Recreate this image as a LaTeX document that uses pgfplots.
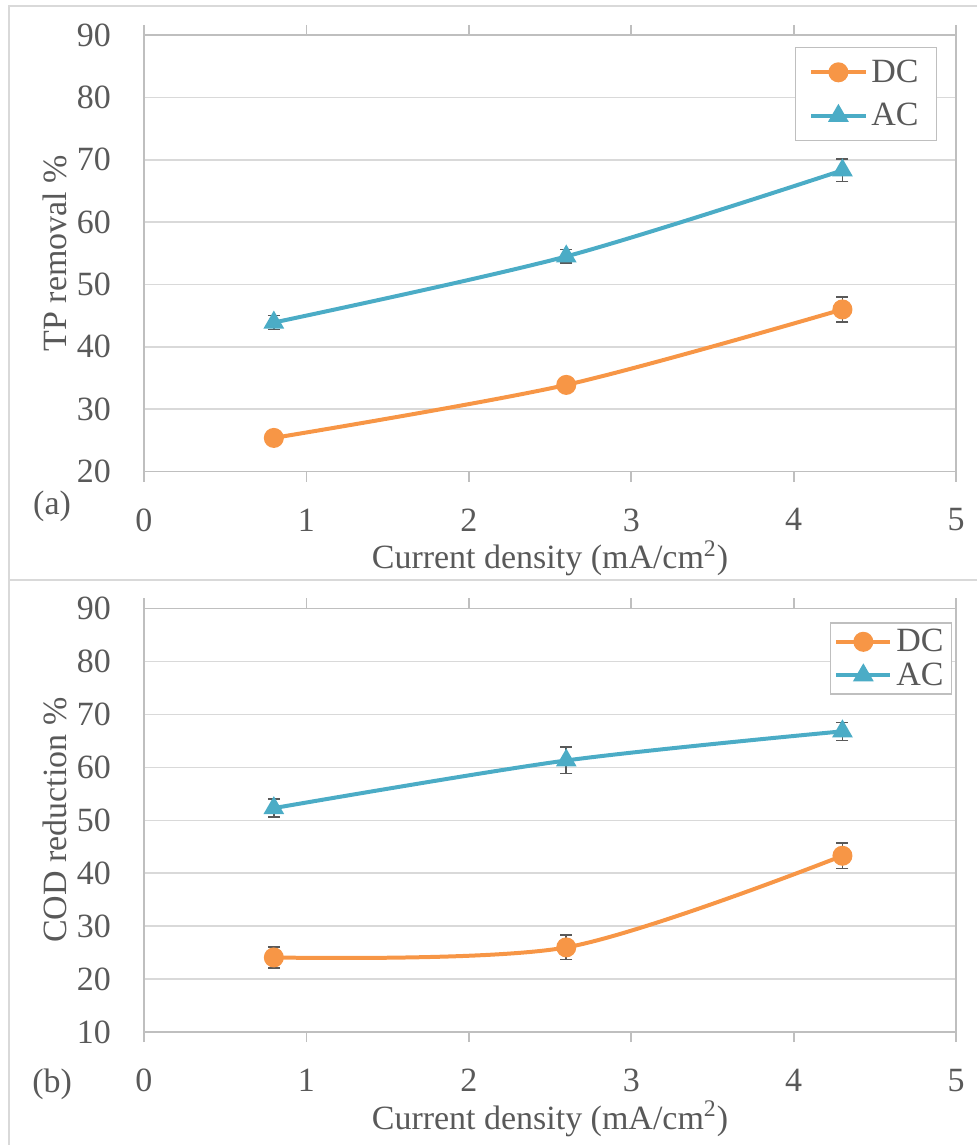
\documentclass[border=0pt]{standalone}
\usepackage{pgfplots}
\pgfplotsset{compat=1.18}
\usepackage{fontspec}
\setmainfont{Liberation Serif}

\definecolor{dcorange}{HTML}{F79646}
\definecolor{acblue}{HTML}{4BACC6}
\definecolor{txtgray}{HTML}{595959}
\definecolor{axgray}{HTML}{BFBFBF}
\definecolor{gridgray}{HTML}{D9D9D9}
\definecolor{errgray}{HTML}{595959}

\pgfplotsset{
  panel/.style={
    scale only axis,
    width=406.5pt,
    xmin=0, xmax=5,
    xtick={0,1,2,3,4,5},
    tick align=outside,
    major tick length=5pt,
    tick style={axgray, line width=0.8pt},
    axis line style={axgray, line width=0.8pt},
    ymajorgrids,
    grid style={gridgray, line width=0.8pt},
    ytick style={draw=none},
    font=\fontsize{17}{20}\selectfont,
    every tick label/.append style={txtgray},
    xticklabel style={yshift=-10pt},
    yticklabel style={xshift=-8pt},
    label style={txtgray},
    xlabel={Current density (mA/cm\textsuperscript{2})},
    xlabel style={yshift=2.5pt},
    /pgf/number format/assume math mode=true,
    legend cell align=left,
    legend image code/.code={%
      \draw[mark repeat=2, mark phase=2, #1]
        plot coordinates {(0pt,0pt) (13.5pt,0pt) (27pt,0pt)};},
    legend style={draw=axgray, line width=0.6pt, text=txtgray,
      font=\fontsize{17}{20}\selectfont, anchor=north east},
    clip=false,
  },
  dc/.style={dcorange, line width=2pt, smooth, tension=0.5,
    mark=*, mark size=4pt, mark options={solid, fill=dcorange, draw=dcorange},
    error bars/.cd, y dir=both, y explicit,
    error bar style={errgray, line width=0.8pt},
    error mark options={errgray, rotate=90, mark size=3pt, line width=0.8pt}},
  ac/.style={acblue, line width=2pt, smooth, tension=0.5,
    mark=triangle*, mark size=4pt, mark options={solid, fill=acblue, draw=acblue},
    error bars/.cd, y dir=both, y explicit,
    error bar style={errgray, line width=0.8pt},
    error mark options={errgray, rotate=90, mark size=3pt, line width=0.8pt}},
}

\begin{document}
\begin{tikzpicture}
  % page extent and panel frames
  \path (0,0) rectangle (489pt,-573pt);
  \draw[gridgray, line width=1pt] (489pt,-3pt) -- (4.5pt,-3pt) -- (4.5pt,-573pt);
  \draw[gridgray, line width=1pt] (4.5pt,-290pt) -- (489pt,-290pt);

  % (a) TP removal
  \begin{axis}[panel,
    at={(72pt,-236pt)}, anchor=south west,
    height=218.5pt,
    ymin=20, ymax=90, ytick={20,30,...,90},
    ylabel={TP removal \%},
    ylabel style={yshift=-2pt},
    legend style={at={(0.9766,0.9725)}, inner xsep=7pt, inner ysep=4pt,
      row sep=5pt},
  ]
    \addplot[dc] table[x=x, y=y, y error=e] {
      x   y    e
      0.8 25.4 1.0
      2.6 33.9 0.3
      4.3 46.0 2.0
    };
    \addlegendentry{DC}
    \addplot[ac] table[x=x, y=y, y error=e] {
      x   y    e
      0.8 43.9 1.1
      2.6 54.5 1.1
      4.3 68.3 1.8
    };
    \addlegendentry{AC}
    \node[txtgray, font=\fontsize{17}{20}\selectfont] at (rel axis cs:-0.1130,-0.0802) {(a)};
  \end{axis}

  % (b) COD reduction
  \begin{axis}[panel,
    at={(72pt,-516.5pt)}, anchor=south west,
    height=212pt,
    ymin=10, ymax=90, ytick={10,20,...,90},
    ylabel={COD reduction \%},
    ylabel style={yshift=-2pt},
    legend style={at={(0.995,0.967)}, inner xsep=2pt, inner ysep=1pt,
      row sep=0pt},
  ]
    \addplot[dc] table[x=x, y=y, y error=e] {
      x   y    e
      0.8 24.1 2.0
      2.6 26.0 2.3
      4.3 43.3 2.4
    };
    \addlegendentry{DC}
    \addplot[ac] table[x=x, y=y, y error=e] {
      x   y    e
      0.8 52.3 1.7
      2.6 61.3 2.5
      4.3 66.8 1.7
    };
    \addlegendentry{AC}
    \node[txtgray, font=\fontsize{17}{20}\selectfont] at (rel axis cs:-0.1130,-0.1230) {(b)};
  \end{axis}
\end{tikzpicture}
\end{document}
